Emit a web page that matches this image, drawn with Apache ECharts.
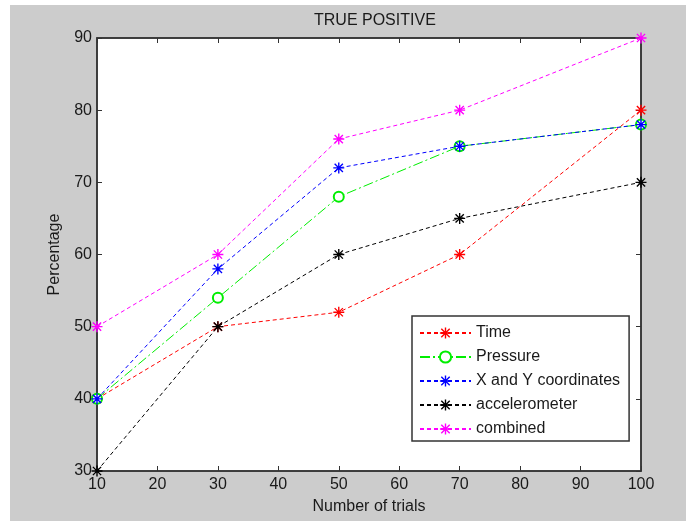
<!DOCTYPE html>
<html><head><meta charset="utf-8">
<script src="https://cdn.jsdelivr.net/npm/echarts@6/dist/echarts.min.js"></script>
<style>html,body{margin:0;padding:0;background:#fff}#c{width:686px;height:521px}</style>
</head><body><div id="c"></div>
<script>
var trials = [10, 30, 50, 70, 100];
var timeVals = [40, 50, 52, 60, 80];
var pressureVals = [40, 54, 68, 75, 78];
var xyVals = [40, 58, 72, 75, 78];
var accelVals = [30, 50, 60, 65, 70];
var combinedVals = [50, 60, 76, 80, 90];
var seriesNames = ['Time', 'Pressure', 'X and Y coordinates', 'accelerometer', 'combined'];

var star = 'path://M-1,-8L1,-8L1,8L-1,8Z M-8,-1L8,-1L8,1L-8,1Z M-6.7,-5.3L-5.3,-6.7L6.7,5.3L5.3,6.7Z M5.3,-6.7L6.7,-5.3L-5.3,6.7L-6.7,5.3Z';
function pts(v){ return trials.map(function(t,i){ return [t, v[i]]; }); }
function mk(name, vals, color, dash, symbol, size){
  return {
    name: name, type: 'line', data: pts(vals), xAxisIndex: 0, yAxisIndex: 0,
    symbol: symbol, symbolSize: size, showSymbol: true,
    lineStyle: {color: color, width: 1, type: dash},
    itemStyle: symbol === 'emptyCircle' ? {color: color, borderColor: color, borderWidth: 1.2} : {color: color},
    emphasis: {disabled: true}, animation: false
  };
}
var font = 'Liberation Sans, Arial, sans-serif';
var fs = 16;
var chart = echarts.init(document.getElementById('c'));
chart.setOption({
  backgroundColor: '#ffffff',
  animation: false,
  graphic: [{type: 'rect', z: -10, shape: {x: 10, y: 5, width: 676, height: 516}, style: {fill: '#cccccc'}, silent: true}],
  title: {text: 'TRUE POSITIVE', left: 309, top: 8, textStyle: {fontFamily: font, fontSize: fs, fontWeight: 'normal', color: '#1a1a1a'}},
  grid: {left: 97, right: 45, top: 38, bottom: 50, show: true, backgroundColor: '#ffffff', borderColor: '#333', borderWidth: 1.5},
  legend: {
    orient: 'vertical', left: 412, top: 316, itemWidth: 51, itemHeight: 14, itemGap: 8,
    padding: [9, 9, 4, 7], backgroundColor: '#ffffff', borderColor: '#333', borderWidth: 1.5,
    textStyle: {fontFamily: font, fontSize: fs, color: '#1a1a1a'},
    data: seriesNames
  },
  xAxis: [{
    type: 'value', min: 10, max: 100, interval: 10,
    name: 'Number of trials', nameLocation: 'middle', nameGap: 28,
    nameTextStyle: {fontFamily: font, fontSize: fs, color: '#1a1a1a'},
    axisLine: {show: true, lineStyle: {color: '#333', width: 1.5}},
    axisTick: {show: true, inside: true, length: 5, lineStyle: {color: '#333'}},
    axisLabel: {fontFamily: font, fontSize: fs, color: '#1a1a1a', margin: 6},
    splitLine: {show: false}
  }, {
    type: 'value', min: 10, max: 100, interval: 10, position: 'top',
    axisLine: {show: true, lineStyle: {color: '#333', width: 1.5}},
    axisTick: {show: true, inside: true, length: 5, lineStyle: {color: '#333'}},
    axisLabel: {show: false}, splitLine: {show: false}
  }],
  yAxis: [{
    type: 'value', min: 30, max: 90, interval: 10,
    name: 'Percentage', nameLocation: 'middle', nameGap: 34, nameRotate: 90,
    nameTextStyle: {fontFamily: font, fontSize: fs, color: '#1a1a1a'},
    axisLine: {show: true, lineStyle: {color: '#333', width: 1.5}},
    axisTick: {show: true, inside: true, length: 5, lineStyle: {color: '#333'}},
    axisLabel: {fontFamily: font, fontSize: fs, color: '#1a1a1a', margin: 5},
    splitLine: {show: false}
  }, {
    type: 'value', min: 30, max: 90, interval: 10, position: 'right',
    axisLine: {show: true, lineStyle: {color: '#333', width: 1.5}},
    axisTick: {show: true, inside: true, length: 5, lineStyle: {color: '#333'}},
    axisLabel: {show: false}, splitLine: {show: false}
  }],
  series: [
    mk(seriesNames[0], timeVals, '#ff0000', [4, 3], star, 11),
    mk(seriesNames[1], pressureVals, '#00ee00', [10, 3, 2, 3], 'emptyCircle', 10),
    mk(seriesNames[2], xyVals, '#0000ff', [4, 3], star, 11),
    mk(seriesNames[3], accelVals, '#000000', [4, 3], star, 11),
    mk(seriesNames[4], combinedVals, '#ff00ff', [4, 3], star, 11)
  ]
});
</script></body></html>
